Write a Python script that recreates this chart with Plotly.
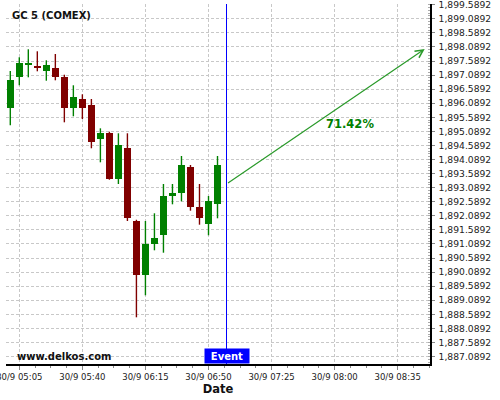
import plotly.graph_objects as go

# ---- data ----
times = ["2020-09-30 05:00", "2020-09-30 05:05", "2020-09-30 05:10", "2020-09-30 05:15",
         "2020-09-30 05:20", "2020-09-30 05:25", "2020-09-30 05:30", "2020-09-30 05:35",
         "2020-09-30 05:40", "2020-09-30 05:45", "2020-09-30 05:50", "2020-09-30 05:55",
         "2020-09-30 06:00", "2020-09-30 06:05", "2020-09-30 06:10", "2020-09-30 06:15",
         "2020-09-30 06:20", "2020-09-30 06:25", "2020-09-30 06:30", "2020-09-30 06:35",
         "2020-09-30 06:40", "2020-09-30 06:45", "2020-09-30 06:50", "2020-09-30 06:55"]
opens = [1895.930, 1897.031, 1897.458, 1897.387, 1897.244, 1897.340, 1897.021, 1895.930,
         1896.239, 1896.026, 1894.818, 1895.031, 1893.408, 1894.498, 1891.916, 1889.998,
         1891.099, 1891.418, 1892.804, 1892.910, 1893.823, 1892.402, 1891.809, 1892.520]
closes = [1896.914, 1897.518, 1897.529, 1897.351, 1897.447, 1897.031, 1895.930, 1896.310,
          1895.930, 1894.722, 1895.031, 1893.408, 1894.605, 1892.022, 1889.998, 1891.088,
          1891.301, 1892.793, 1892.900, 1893.894, 1892.413, 1892.022, 1892.616, 1893.894]
highs = [1897.234, 1897.721, 1898.005, 1897.934, 1897.614, 1897.838, 1897.102, 1896.726,
         1896.406, 1896.239, 1895.198, 1895.077, 1895.021, 1895.021, 1891.950, 1891.905,
         1892.179, 1893.220, 1893.220, 1894.214, 1893.894, 1893.220, 1892.793, 1894.214]
lows = [1895.305, 1896.726, 1897.010, 1897.223, 1896.889, 1896.903, 1895.411, 1895.625,
        1895.529, 1894.488, 1893.990, 1893.372, 1893.220, 1891.905, 1888.484, 1889.266,
        1890.864, 1890.779, 1892.498, 1892.605, 1892.271, 1891.774, 1891.397, 1892.001]

event_time = "2020-09-30 07:00"
arrow_start = ("2020-09-30 07:00", 1893.220)
arrow_end = ("2020-09-30 08:50", 1898.015)
pct_label = "71.42%"
pct_pos = ("2020-09-30 08:08:30", 1895.351)

x_tickvals = ["2020-09-30 05:05", "2020-09-30 05:40", "2020-09-30 06:15", "2020-09-30 06:50",
              "2020-09-30 07:25", "2020-09-30 08:00", "2020-09-30 08:35"]
x_ticktext = ["30/9 05:05", "30/9 05:40", "30/9 06:15", "30/9 06:50",
              "30/9 07:25", "30/9 08:00", "30/9 08:35"]
y_tickvals = [1887.0892 + 0.5 * i for i in range(26)]
y_ticktext = ["{:,.4f}".format(v) for v in y_tickvals]

title_text = "GC 5 (COMEX)"
watermark = "www.delkos.com"

# ---- figure ----
GREEN = "#008000"
RED = "#800000"

fig = go.Figure()

for up, col in ((True, GREEN), (False, RED)):
    idx = [i for i in range(len(times)) if (closes[i] >= opens[i]) == up]
    wx, wy = [], []
    for i in idx:
        wx += [times[i], times[i], None]
        wy += [lows[i], highs[i], None]
    fig.add_trace(go.Scatter(x=wx, y=wy, mode="lines", line=dict(color=col, width=1.4),
                             hoverinfo="skip", showlegend=False))
    fig.add_trace(go.Bar(x=[times[i] for i in idx],
                         base=[min(opens[i], closes[i]) for i in idx],
                         y=[max(abs(closes[i] - opens[i]), 0.035) for i in idx],
                         width=233000, marker=dict(color=col, line=dict(width=0)),
                         showlegend=False))

fig.add_shape(type="line", xref="x", yref="paper", x0=event_time, x1=event_time, y0=0, y1=1,
              line=dict(color="#0000ff", width=1))

fig.add_annotation(x=arrow_end[0], y=arrow_end[1], ax=arrow_start[0], ay=arrow_start[1],
                   xref="x", yref="y", axref="x", ayref="y", text="", showarrow=True,
                   arrowhead=5, arrowsize=1.3, arrowwidth=1.2, arrowcolor="#2a9a2a", standoff=0)
fig.add_annotation(x=pct_pos[0], y=pct_pos[1], xref="x", yref="y", text="<b>%s</b>" % pct_label,
                   showarrow=False, font=dict(family="DejaVu Sans", size=11.5, color=GREEN))
fig.add_annotation(x=event_time, y=0, xref="x", yref="paper", text="<b>Event</b>",
                   showarrow=False, yanchor="bottom", xanchor="center", width=44, height=14,
                   borderpad=0, bgcolor="#0000ff", font=dict(family="DejaVu Sans", size=10, color="white"))
fig.add_annotation(x=0, y=1, xref="paper", yref="paper", xshift=4, yshift=-11.5,
                   xanchor="left", yanchor="middle", text="<b>%s</b>" % title_text, showarrow=False,
                   font=dict(family="DejaVu Sans", size=10, color="#111"))
fig.add_annotation(x=0, y=0, xref="paper", yref="paper", xshift=9, yshift=8,
                   xanchor="left", yanchor="middle", text="<b>%s</b>" % watermark, showarrow=False,
                   font=dict(family="DejaVu Sans", size=10, color="#111"))

grid = dict(showgrid=True, gridcolor="#c8c8c8", griddash="3px,2px", gridwidth=1, zeroline=False)

fig.update_layout(
    width=500, height=400, margin=dict(l=6, r=70, t=4, b=36),
    paper_bgcolor="white", plot_bgcolor="white", barmode="overlay", bargap=0,
    showlegend=False,
    xaxis=dict(type="date", range=["2020-09-30 04:57:37", "2020-09-30 08:52:56"],
               tickmode="array", tickvals=x_tickvals, ticktext=x_ticktext,
               ticks="outside", ticklen=4, tickcolor="#888", showline=True, linecolor="black",
               linewidth=1.5, tickfont=dict(family="DejaVu Sans", size=8.5, color="#222"),
               ticklabeloverflow="allow",
               minor=dict(ticks="outside", ticklen=2, tickcolor="#888", tickmode="linear",
                          tick0="2020-09-30 05:05", dtick=525000, showgrid=False),
               title=dict(text="<b>Date</b>", font=dict(family="DejaVu Sans", size=11.5, color="#111"),
                          standoff=4),
               automargin=False, fixedrange=True, **grid),
    yaxis=dict(side="right", range=[1886.825, 1899.614], tickmode="array",
               tickvals=y_tickvals, ticktext=y_ticktext, ticks="outside", ticklen=3,
               tickcolor="#888", showline=True, linecolor="black", linewidth=1.5,
               tickfont=dict(family="DejaVu Sans", size=9.2, color="#222"),
               ticklabelstandoff=2, ticklabeloverflow="allow",
               minor=dict(ticks="inside", ticklen=2, tickcolor="#aaa", tickmode="linear",
                          tick0=1887.0892, dtick=0.1, showgrid=False),
               automargin=False, fixedrange=True, **grid),
)

fig.write_html("out.html", config={"displayModeBar": False},
               post_script="document.body.style.margin='0';")
